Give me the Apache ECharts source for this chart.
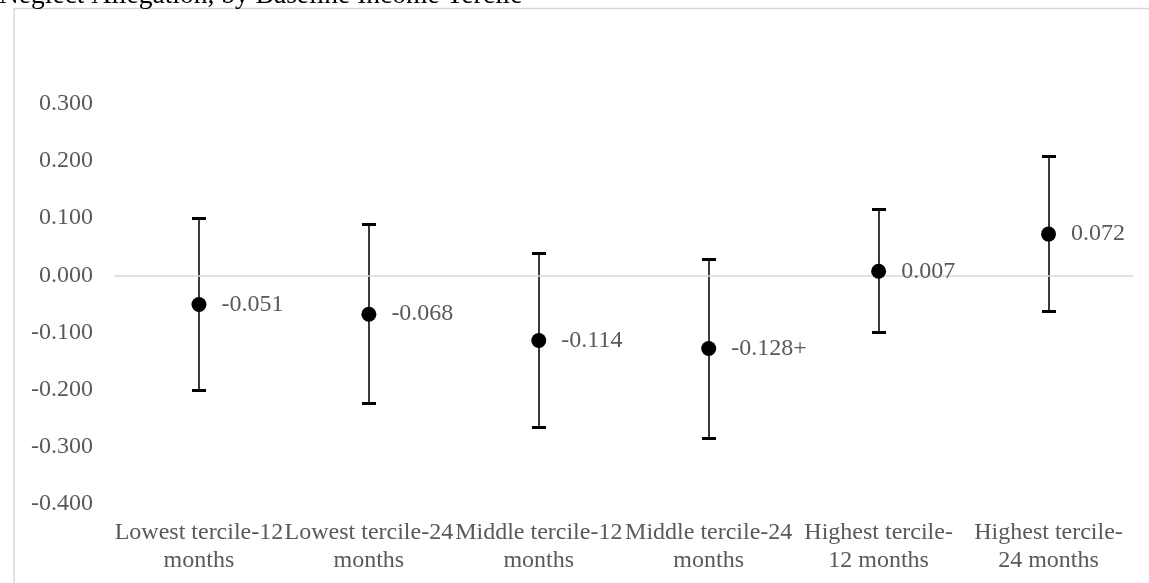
<!DOCTYPE html>
<html>
<head>
<meta charset="utf-8">
<script src="https://cdn.jsdelivr.net/npm/echarts@6/dist/echarts.min.js"></script>
<style>html,body{margin:0;padding:0;background:#fff}#c{width:1149px;height:583px}</style>
</head>
<body>
<div id="c"></div>
<script>
const title = 'Neglect Allegation, by Baseline Income Tercile';
const categories = ['Lowest tercile-12\nmonths', 'Lowest tercile-24\nmonths', 'Middle tercile-12\nmonths', 'Middle tercile-24\nmonths', 'Highest tercile-\n12 months', 'Highest tercile-\n24 months'];
const estimates = [-0.051, -0.068, -0.114, -0.128, 0.007, 0.072];
const lowerBounds = [-0.201, -0.224, -0.266, -0.284, -0.100, -0.062];
const upperBounds = [0.101, 0.090, 0.039, 0.029, 0.116, 0.209];
const pointLabels = ['-0.051', '-0.068', '-0.114', '-0.128+', '0.007', '0.072'];

const FONT = 'Liberation Serif';
const chart = echarts.init(document.getElementById('c'), null, {renderer: 'canvas'});

const errData = categories.map((c, i) => [i, lowerBounds[i], upperBounds[i]]);
const ptData = categories.map((c, i) => [i, estimates[i]]);

chart.setOption({
  animation: false,
  backgroundColor: '#fff',
  graphic: [
    {type: 'rect', shape: {x: 14, y: 8.5, width: 1300, height: 700}, style: {fill: 'none', stroke: '#d9d9d9', lineWidth: 1.5}, silent: true, z: -10},
    {type: 'text', x: -1, y: -4, style: {text: title, font: '27.5px "Liberation Serif"', fill: '#000', textVerticalAlign: 'middle'}}
  ],
  grid: {left: 114, top: 103.7, width: 1019.5, height: 400.4, containLabel: false},
  xAxis: {
    type: 'category',
    data: categories,
    axisLine: {show: false, onZero: false},
    axisTick: {show: false},
    axisLabel: {interval: 0, margin: 15, lineHeight: 28, color: '#595959', fontFamily: FONT, fontSize: 24},
    splitLine: {show: false}
  },
  yAxis: {
    type: 'value',
    min: -0.4, max: 0.3, interval: 0.1,
    axisLine: {show: false},
    axisTick: {show: false},
    splitLine: {show: false},
    axisLabel: {margin: 21, color: '#595959', fontFamily: FONT, fontSize: 24, formatter: v => v.toFixed(3)}
  },
  series: [
    {
      type: 'custom',
      data: errData,
      z: 3,
      silent: true,
      renderItem: function (params, api) {
        const x = api.value(0);
        const lo = api.coord([x, api.value(1)]);
        const hi = api.coord([x, api.value(2)]);
        const hw = 7;
        const cx = Math.round(lo[0]);
        return {
          type: 'group',
          children: [
            {type: 'line', shape: {x1: cx, y1: lo[1], x2: cx, y2: hi[1]}, style: {stroke: '#3a3a3a', lineWidth: 2}},
            {type: 'line', shape: {x1: cx - hw, y1: Math.round(hi[1]) + 0.5, x2: cx + hw, y2: Math.round(hi[1]) + 0.5}, style: {stroke: '#000', lineWidth: 3}},
            {type: 'line', shape: {x1: cx - hw, y1: Math.round(lo[1]) + 0.5, x2: cx + hw, y2: Math.round(lo[1]) + 0.5}, style: {stroke: '#000', lineWidth: 3}}
          ]
        };
      },
      markLine: {
        silent: true, symbol: 'none', label: {show: false},
        lineStyle: {color: '#d9d9d9', width: 1.5, type: 'solid'},
        data: [{yAxis: 0}]
      }
    },
    {
      type: 'scatter',
      data: ptData,
      z: 5,
      silent: true,
      symbol: 'circle',
      symbolSize: 15,
      itemStyle: {color: '#000', opacity: 1},
      emphasis: {disabled: true},
      label: {
        show: true, position: 'right', distance: 15,
        color: '#595959', fontFamily: FONT, fontSize: 24,
        formatter: p => pointLabels[p.dataIndex]
      }
    }
  ]
});
</script>
</body>
</html>
